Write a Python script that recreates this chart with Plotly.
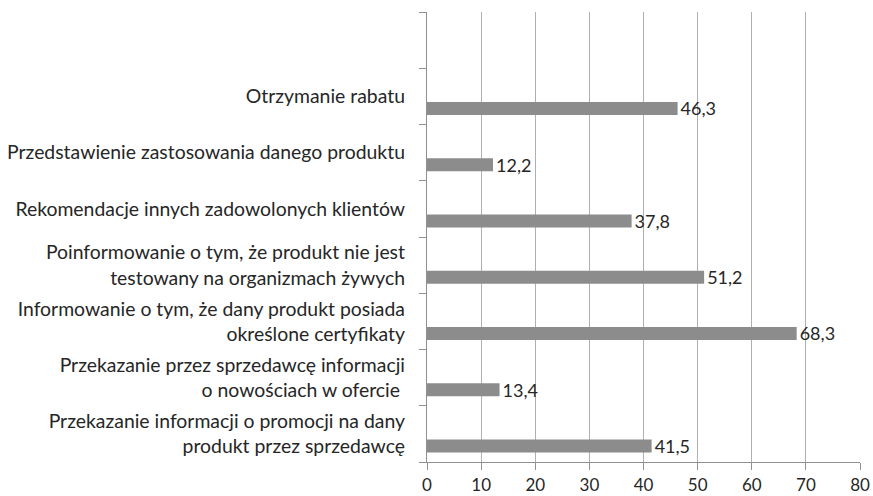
import plotly.graph_objects as go

categories = [
    "Przekazanie informacji o promocji na dany<br>produkt przez sprzedawcę",
    "Przekazanie przez sprzedawcę informacji<br>o nowościach w ofercie ",
    "Informowanie o tym, że dany produkt posiada<br>określone certyfikaty",
    "Poinformowanie o tym, że produkt nie jest<br>testowany na organizmach żywych",
    "Rekomendacje innych zadowolonych klientów",
    "Przedstawienie zastosowania danego produktu",
    "Otrzymanie rabatu",
]
values = [41.5, 13.4, 68.3, 51.2, 37.8, 12.2, 46.3]
x_ticks = [0, 10, 20, 30, 40, 50, 60, 70, 80]

labels = [f"{v:.1f}".replace(".", ",") for v in values]
all_cats = categories + [" "]

FONT = "Lato"
TXT = "#262626"

fig = go.Figure(
    go.Bar(
        x=values,
        y=categories,
        orientation="h",
        marker=dict(color="#8c8c8c", line=dict(width=0)),
        width=0.232,
        offset=-0.33,
        text=labels,
        textposition="outside",
        constraintext="none",
        textfont=dict(family=FONT, size=18, color=TXT),
        cliponaxis=False,
        hoverinfo="skip",
    )
)

fig.update_layout(
    width=873,
    height=496,
    margin=dict(l=427, r=13, t=12, b=34, autoexpand=False),
    paper_bgcolor="white",
    plot_bgcolor="white",
    showlegend=False,
    font=dict(family=FONT, size=18, color=TXT),
)

fig.update_xaxes(
    range=[0, 80],
    tickvals=x_ticks,
    ticktext=[str(t) for t in x_ticks],
    showgrid=True,
    gridcolor="#b0b0b0",
    gridwidth=1.3,
    zeroline=False,
    showline=True,
    linecolor="#909090",
    linewidth=1.3,
    ticks="outside",
    ticklen=7,
    tickcolor="#909090",
    tickwidth=1.3,
    ticklabelstandoff=0,
    automargin=False,
    tickfont=dict(family=FONT, size=17, color=TXT),
)

fig.update_yaxes(
    type="category",
    categoryorder="array",
    categoryarray=all_cats,
    range=[-0.5, 7.5],
    tickson="boundaries",
    ticks="outside",
    ticklen=7,
    tickcolor="#909090",
    tickwidth=1.3,
    showgrid=False,
    showline=True,
    linecolor="#909090",
    linewidth=1.3,
    ticklabelstandoff=17,
    automargin=False,
    tickfont=dict(family=FONT, size=19.4, color=TXT),
)

fig.write_html(
    "out.html",
    config={"displayModeBar": False},
    post_script="document.body.style.margin='0';document.body.style.overflow='hidden';",
)
